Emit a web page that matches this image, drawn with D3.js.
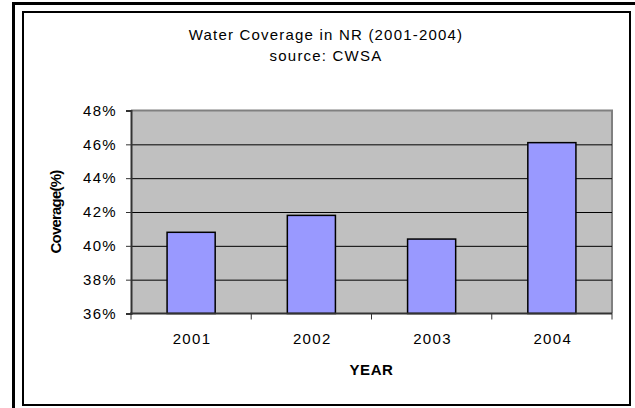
<!DOCTYPE html>
<html>
<head>
<meta charset="utf-8">
<script src="https://cdn.jsdelivr.net/npm/d3@7"></script>
<style>
  body { margin: 0; background: #fff; }
  svg text { font-family: "Liberation Sans", Arial, sans-serif; fill: #000; }
</style>
</head>
<body>
<svg id="chart" width="635" height="408"></svg>
<script>
// Water coverage bar chart

var years = ["2001", "2002", "2003", "2004"]
  , coverage = [0.408, 0.418, 0.404, 0.461]
  , yTicks = [0.36, 0.38, 0.40, 0.42, 0.44, 0.46, 0.48]
  , titleLines = ["Water Coverage in NR (2001-2004)", "source: CWSA"]
  ;

var svg = d3.select("#chart")
  , plot = { left: 131, top: 110.5, right: 612, bottom: 313.5 }
  ;

// Outer frame (runs off the picture on right and bottom)
svg.append("rect")
   .attr("x", 13.5).attr("y", 3.5)
   .attr("width", 640).attr("height", 420)
   .attr("fill", "none").attr("stroke", "#000").attr("stroke-width", 3);

// Inner chart frame
svg.append("rect")
   .attr("x", 23).attr("y", 12)
   .attr("width", 607).attr("height", 393)
   .attr("fill", "#fff").attr("stroke", "#000").attr("stroke-width", 2);

var x = d3.scaleBand()
          .domain(years)
          .range([plot.left, plot.right])
          .paddingInner(0.6)
          .paddingOuter(0.3)
  , xCells = d3.scaleBand().domain(years).range([plot.left, plot.right])
  , y = d3.scaleLinear().domain([0.36, 0.48]).range([plot.bottom, plot.top])
  ;

// Plot area background
svg.append("rect")
   .attr("x", plot.left).attr("y", plot.top)
   .attr("width", plot.right - plot.left).attr("height", plot.bottom - plot.top)
   .attr("fill", "#c0c0c0");

// top + right border of plot area
svg.append("path")
   .attr("d", "M" + plot.left + "," + plot.top + "H" + plot.right + "V" + plot.bottom)
   .attr("fill", "none").attr("stroke", "#808080").attr("stroke-width", 2);

// Gridlines
svg.append("g")
   .attr("transform", "translate(" + plot.left + ",0)")
   .call(d3.axisLeft(y).tickValues(yTicks.slice(1, -1)).tickSize(-(plot.right - plot.left)).tickFormat(""))
   .call(function (g) {
     g.select(".domain").remove();
     g.selectAll("line").attr("stroke", "#000").attr("stroke-width", 1);
   });

// Bars
svg.append("g").selectAll("rect")
   .data(years)
   .enter().append("rect")
   .attr("x", function (d) { return x(d); })
   .attr("y", function (d, i) { return y(coverage[i]); })
   .attr("width", x.bandwidth())
   .attr("height", function (d, i) { return plot.bottom - y(coverage[i]); })
   .attr("fill", "#9999ff")
   .attr("stroke", "#000")
   .attr("stroke-width", 1.5);

// Y axis
svg.append("g")
   .attr("transform", "translate(" + plot.left + ",0)")
   .call(d3.axisLeft(y).tickValues(yTicks).tickSize(5).tickPadding(9).tickFormat(d3.format(".0%")))
   .call(function (g) {
     g.select(".domain").attr("stroke", "#333").attr("stroke-width", 2);
     g.selectAll("line").attr("stroke", "#333");
     g.selectAll("text")
      .attr("font-size", 15)
      .style("letter-spacing", "1.3px")
      .attr("font-family", null);
   });

// X axis line and boundary ticks
svg.append("line")
   .attr("x1", plot.left - 1).attr("x2", plot.right)
   .attr("y1", plot.bottom).attr("y2", plot.bottom)
   .attr("stroke", "#333").attr("stroke-width", 2);

var bounds = years.map(function (d) { return xCells(d); }).concat([plot.right]);
svg.append("g").selectAll("line")
   .data(bounds)
   .enter().append("line")
   .attr("x1", function (d) { return d; }).attr("x2", function (d) { return d; })
   .attr("y1", plot.bottom).attr("y2", plot.bottom + 6)
   .attr("stroke", "#333").attr("stroke-width", 1);

// Category labels
svg.append("g").selectAll("text")
   .data(years)
   .enter().append("text")
   .attr("x", function (d) { return x(d) + x.bandwidth() / 2 + 1; })
   .attr("y", 344)
   .attr("text-anchor", "middle")
   .attr("font-size", 15)
   .style("letter-spacing", "1.4px")
   .text(function (d) { return d; });

// Axis titles
svg.append("text")
   .attr("x", (plot.left + plot.right) / 2)
   .attr("y", 375)
   .attr("text-anchor", "middle")
   .attr("font-size", 15)
   .attr("font-weight", "bold")
   .style("letter-spacing", "0.6px")
   .text("YEAR");

svg.append("text")
   .attr("transform", "translate(61," + ((plot.top + plot.bottom) / 2) + ") rotate(-90)")
   .attr("text-anchor", "middle")
   .attr("font-size", 15)
   .attr("font-weight", "bold")
   .style("letter-spacing", "-0.8px")
   .text("Coverage(%)");

// Chart title
svg.append("g").selectAll("text")
   .data(titleLines)
   .enter().append("text")
   .attr("x", 326)
   .attr("y", function (d, i) { return 40 + i * 21; })
   .attr("text-anchor", "middle")
   .attr("font-size", 15)
   .style("letter-spacing", "1.2px")
   .text(function (d) { return d; });
</script>
</body>
</html>
